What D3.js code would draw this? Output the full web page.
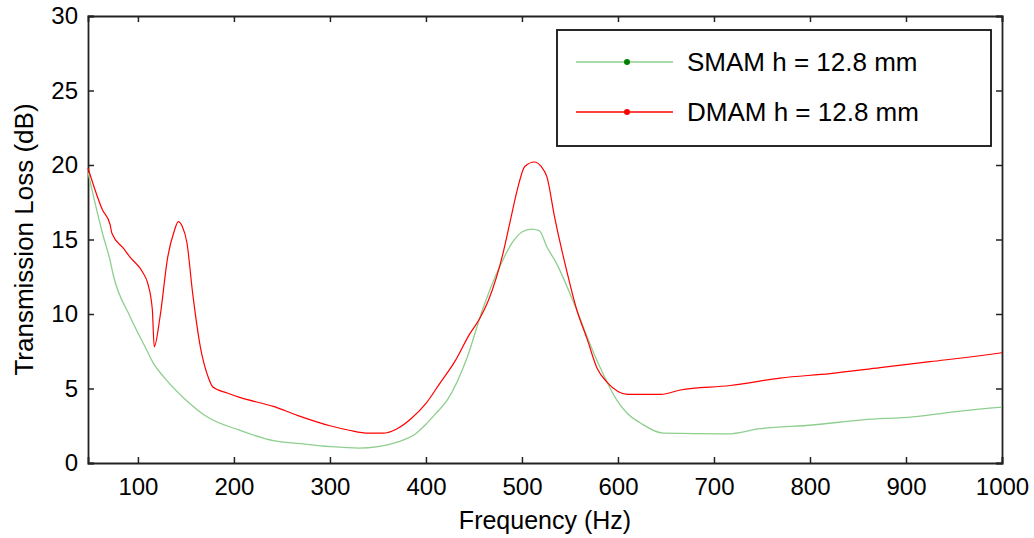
<!DOCTYPE html>
<html>
<head>
<meta charset="utf-8">
<script src="https://cdn.jsdelivr.net/npm/d3@7"></script>
<style>
  body { margin: 0; background: #fff; }
  svg { display: block; font-family: "Liberation Sans", Arial, sans-serif; }
</style>
</head>
<body>
<svg id="chart" width="1034" height="538"></svg>
<script>
// values
const smamFreq = [48, 53, 64, 71, 74, 92, 109, 116, 128, 154, 172, 206, 241, 269, 300, 330, 350, 370, 390, 400, 410, 422, 443, 459, 477, 490, 500, 510, 518, 526, 536, 553, 578, 599, 610, 623, 647, 714, 748, 803, 855, 907, 959, 1000];
const smamTL = [19.5, 18.1, 15.2, 13.6, 12.7, 9.8, 7.6, 6.7, 5.7, 4.0, 3.1, 2.2, 1.5, 1.3, 1.1, 1.0, 1.1, 1.4, 2.0, 2.6, 3.3, 4.2, 7.1, 10.3, 13.2, 14.8, 15.5, 15.7, 15.6, 14.5, 13.4, 10.9, 6.9, 4.2, 3.3, 2.7, 2.0, 1.95, 2.3, 2.55, 2.9, 3.1, 3.5, 3.75];

const dmamFreq = [48, 63, 71, 73, 85, 92, 105, 110, 115, 117, 123, 131, 138, 142, 146, 151, 157, 165, 173, 178, 193, 206, 241, 266, 300, 320, 340, 355, 370, 385, 400, 415, 430, 445, 456, 465, 480, 488, 495, 503, 513, 520, 526, 534, 547, 557, 568, 578, 589, 600, 610, 645, 665, 717, 769, 821, 873, 925, 977, 1000];
const dmamTL = [19.8, 17.0, 16.0, 15.4, 14.4, 13.8, 12.8, 12.1, 10.3, 7.8, 9.8, 13.8, 15.6, 16.2, 15.9, 14.8, 11.4, 7.8, 5.8, 5.1, 4.7, 4.4, 3.8, 3.2, 2.5, 2.2, 2.0, 2.0, 2.3, 3.0, 4.0, 5.4, 6.8, 8.6, 9.7, 10.9, 14.0, 16.3, 18.3, 19.9, 20.2, 19.9, 19.2, 16.5, 12.8, 10.3, 8.3, 6.4, 5.4, 4.8, 4.6, 4.6, 4.9, 5.2, 5.7, 6.0, 6.4, 6.8, 7.2, 7.4];

const xTicks = [100, 200, 300, 400, 500, 600, 700, 800, 900, 1000];
const yTicks = [0, 5, 10, 15, 20, 25, 30];

const seriesNames = ['SMAM h = 12.8 mm', 'DMAM h = 12.8 mm'];
const lineColors = ['#8fce8f', '#ff0000'];
const markColors = ['#008000', '#ff0000'];

const margin = { top: 16, right: 32, bottom: 75, left: 88 };
const W = 1034, H = 538;
const width = W - margin.left - margin.right;
const height = H - margin.top - margin.bottom;

const svg = d3.select('#chart');
const g = svg.append('g').attr('transform', `translate(${margin.left},${margin.top})`);

const x = d3.scaleLinear().domain([48, 1000]).range([0, width]);
const y = d3.scaleLinear().domain([0, 30]).range([height, 0]);

const tickLen = 6;

// axes (MATLAB style, ticks pointing inward, on all four sides)
g.append('g').attr('class', 'axis axis--x')
    .attr('transform', `translate(0,${height})`)
    .call(d3.axisBottom(x).tickValues(xTicks).tickSize(-tickLen).tickPadding(15).tickFormat(d3.format('d')));
g.append('g').attr('class', 'axis axis--x2')
    .call(d3.axisTop(x).tickValues(xTicks).tickSize(-tickLen).tickFormat(''));
g.append('g').attr('class', 'axis axis--y')
    .call(d3.axisLeft(y).tickValues(yTicks).tickSize(-tickLen).tickPadding(10));
g.append('g').attr('class', 'axis axis--y2')
    .attr('transform', `translate(${width},0)`)
    .call(d3.axisRight(y).tickValues(yTicks).tickSize(-tickLen).tickFormat(''));

g.selectAll('.axis .domain').attr('stroke', '#222').attr('stroke-width', 1.8);
g.selectAll('.axis .tick line').attr('stroke', '#222').attr('stroke-width', 1.5);
g.selectAll('.axis .tick text').attr('fill', '#000').style('font-size', '24px');

// lines
const line = d3.line()
    .x(d => x(d[0]))
    .y(d => y(d[1]))
    .curve(d3.curveMonotoneX);

const series = [
    d3.zip(smamFreq, smamTL),
    d3.zip(dmamFreq, dmamTL),
];

g.selectAll('.series')
    .data(series)
    .enter().append('path')
    .attr('class', 'series')
    .attr('fill', 'none')
    .attr('stroke', (d, i) => lineColors[i])
    .attr('stroke-width', (d, i) => i === 0 ? 1.3 : 1.2)
    .attr('d', line);

// axis titles
svg.append('text')
    .attr('x', margin.left + width / 2)
    .attr('y', 529)
    .attr('text-anchor', 'middle')
    .style('font-size', '25px')
    .text('Frequency (Hz)');

svg.append('text')
    .attr('transform', `translate(33,${margin.top + height / 2}) rotate(-90)`)
    .attr('text-anchor', 'middle')
    .style('font-size', '26px')
    .text('Transmission Loss (dB)');

// legend
const legend = svg.append('g').attr('class', 'legend').attr('transform', 'translate(557,30)');
legend.append('rect')
    .attr('width', 434)
    .attr('height', 116)
    .attr('fill', '#fff')
    .attr('stroke', '#111')
    .attr('stroke-width', 1.8);

const item = legend.selectAll('.item')
    .data(seriesNames)
    .enter().append('g')
    .attr('class', 'item')
    .attr('transform', (d, i) => `translate(0,${32 + i * 50})`);

item.append('line')
    .attr('x1', 19).attr('x2', 116)
    .attr('stroke', (d, i) => lineColors[i])
    .attr('stroke-width', 1.3);
item.append('circle')
    .attr('cx', 70).attr('r', 3)
    .attr('fill', (d, i) => markColors[i]);
item.append('text')
    .attr('x', 130)
    .attr('dy', '0.35em')
    .style('font-size', '26px')
    .text(d => d);
</script>
</body>
</html>
